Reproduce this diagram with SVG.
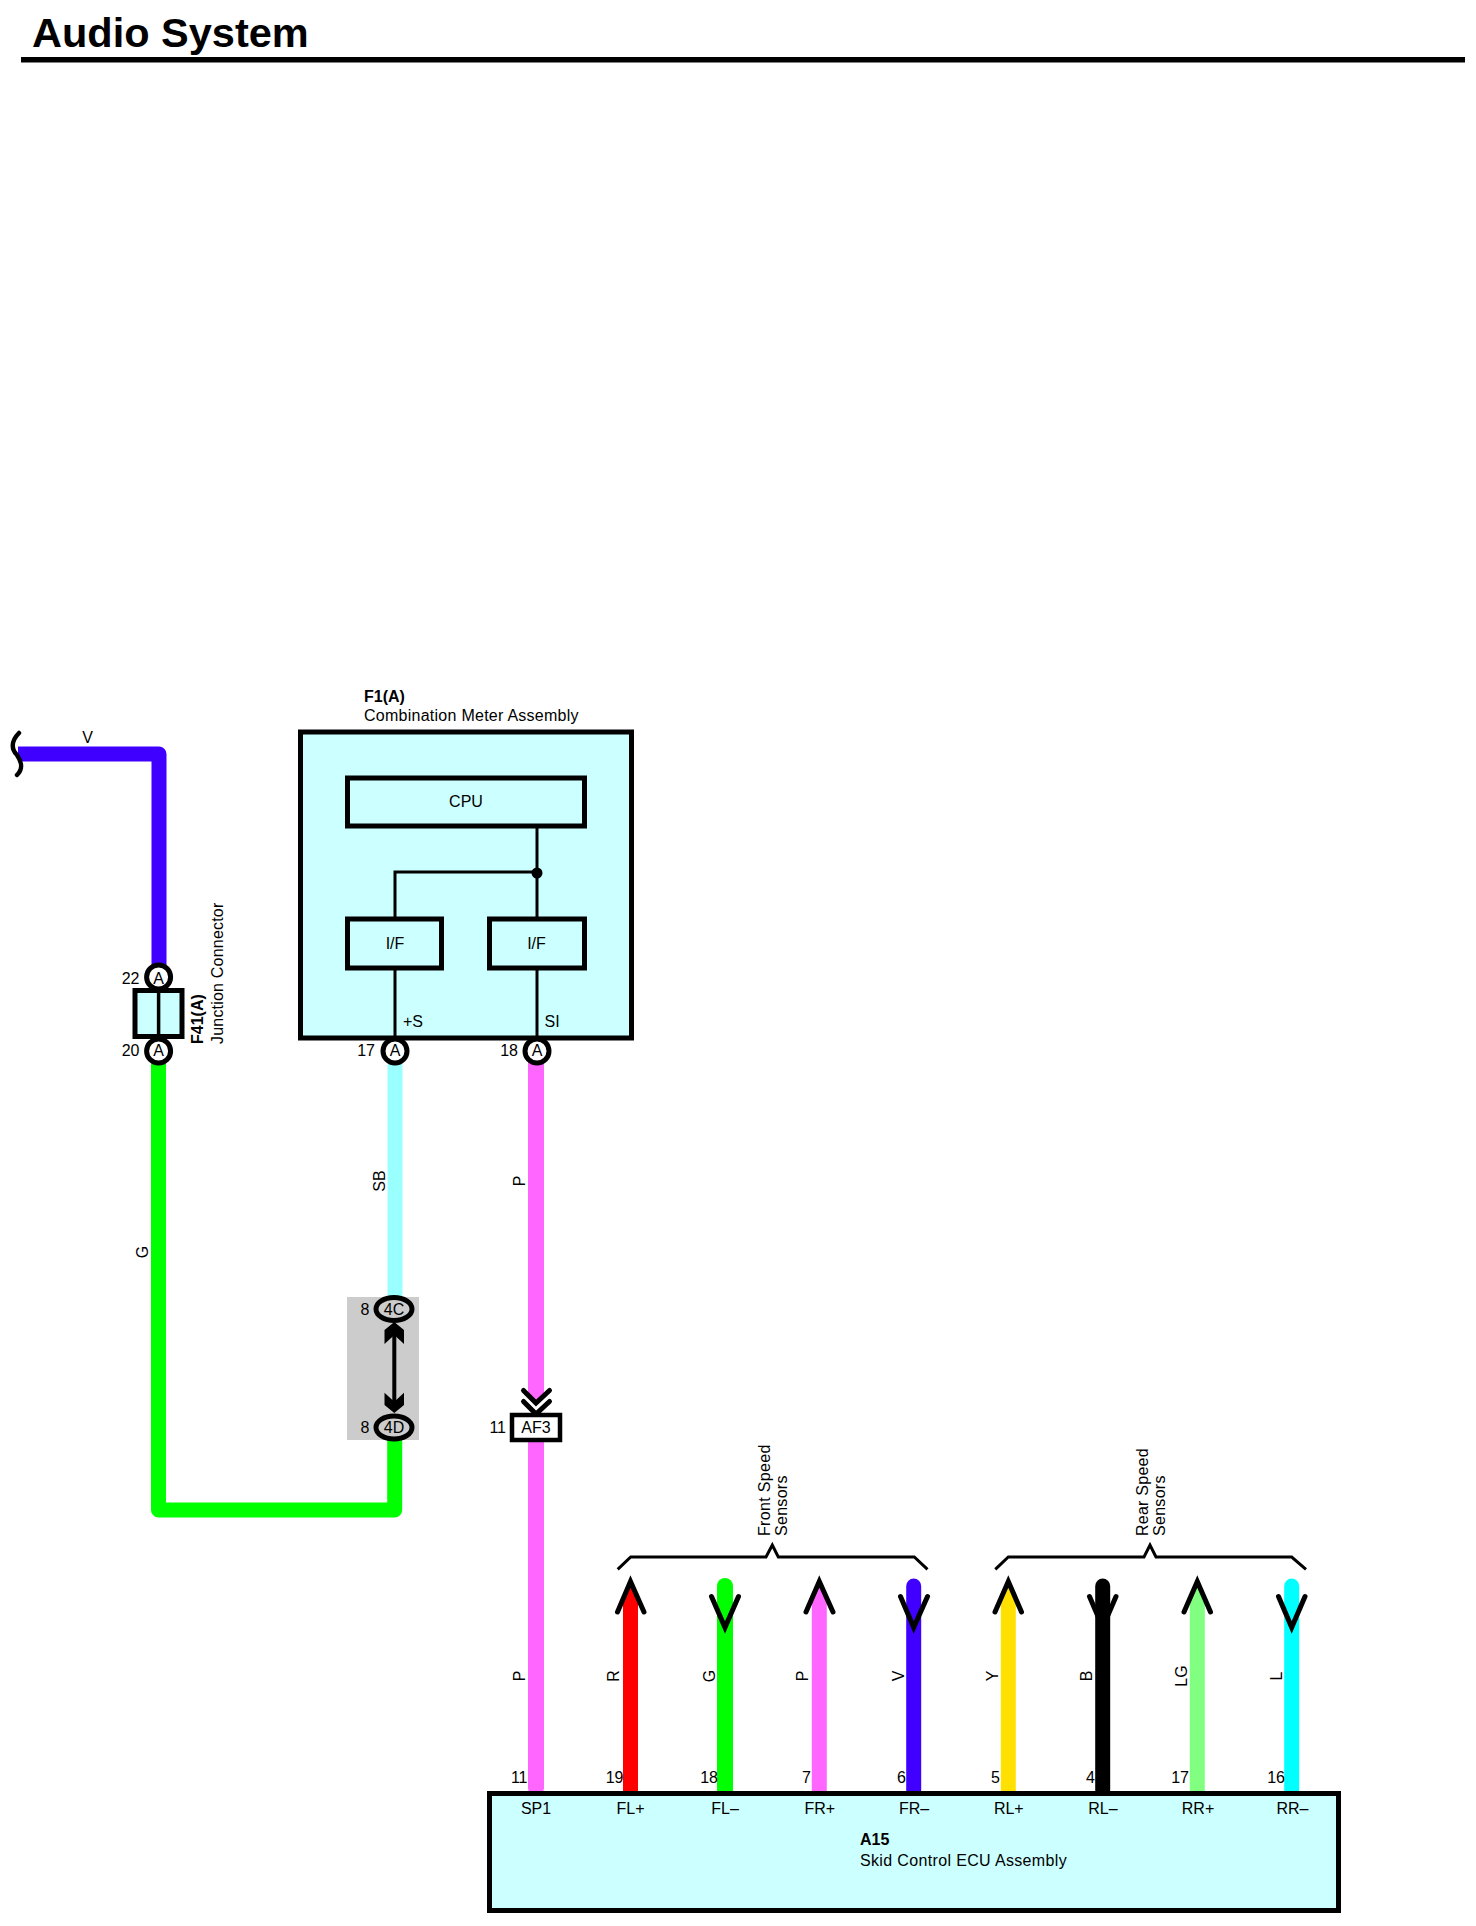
<svg xmlns="http://www.w3.org/2000/svg" width="1476" height="1926" viewBox="0 0 1476 1926">
<style>
text{font-family:"Liberation Sans",Arial,sans-serif;font-size:16px;fill:#000}
.b{font-weight:bold}
.m{text-anchor:middle}
.e{text-anchor:end}
.box{fill:#ccffff;stroke:#000;stroke-width:5;stroke-linejoin:miter}
.w{fill:none;stroke-width:15;stroke-linejoin:round;stroke-linecap:round}
.pin{fill:#fff;stroke:#000;stroke-width:5}
.gp{fill:#ccc;stroke:#000;stroke-width:5}
.ch{fill:none;stroke:#000;stroke-width:5;stroke-linecap:round;stroke-linejoin:miter}
.br{fill:none;stroke:#000;stroke-width:3}
</style>
<rect width="1476" height="1926" fill="#fff"/>
<g id="title">
<text class="b" x="32" y="47" style="font-size:41.500px">Audio System</text>
<rect x="21" y="57" width="1444" height="5.500" fill="#000"/>
</g>
<g id="splice-shade"><rect x="347" y="1297" width="72" height="143" fill="#ccc"/></g>
<g id="connectors">
<path class="w" stroke="#4000ff" style="stroke-linecap:butt" d="M18 754H159V975"/>
<path d="M19 733C10 742 12 750 17 755C21 761 24 768 17 775" fill="none" stroke="#000" stroke-width="4.500" stroke-linecap="round"/>
<path class="w" stroke="#00ff00" d="M158.500 1055V1510H394.700V1430"/>
<path class="w" stroke="#99ffff" style="stroke-linecap:butt" d="M395 1055V1300"/>
<path class="w" stroke="#ff66ff" style="stroke-width:16" d="M536 1055V1395M536 1440V1788"/>
<path class="ch" d="M523.500 1390.500L536 1403L549.500 1390.500M523.500 1401.500L536 1414L549.500 1401.500"/>
<path d="M394.300 1330V1410" stroke="#000" stroke-width="4" fill="none"/>
<path d="M394.300 1322L404 1330V1344L394.300 1335L384.500 1344V1330Z M394.300 1413L404 1405V1392.700L394.300 1401.700L384.500 1392.700V1405Z" fill="#000"/>
<path d="M630.500 1584L638 1600V1792H623V1600Z" fill="#ff0000"/>
<path class="w" stroke="#00ff00" style="stroke-width:16" d="M725 1586V1790"/>
<path d="M819.300 1584L826.800 1600V1792H811.800V1600Z" fill="#ff66ff"/>
<path class="w" stroke="#4000ff" d="M913.700 1586V1790"/>
<path d="M1008.300 1584L1015.800 1600V1792H1000.800V1600Z" fill="#ffe000"/>
<path class="w" stroke="#000" d="M1102.700 1586V1790"/>
<path d="M1197.300 1584L1204.800 1600V1792H1189.800V1600Z" fill="#80ff80"/>
<path class="w" stroke="#00ffff" d="M1291.700 1586V1790"/>
<path class="ch" d="M617.500 1612L630.500 1581.500L644 1612M711.500 1596.500L725 1627.500L738.500 1596.500M806 1612L819.300 1581.500L833 1612M900.500 1596.500L913.700 1627.500L927.500 1596.500M995 1612L1008.300 1581.500L1021.500 1612M1089.500 1596.500L1102.700 1627.500L1116 1596.500M1184 1612L1197.300 1581.500L1210.500 1612M1278.500 1596.500L1291.700 1627.500L1305 1596.500"/>
<path class="br" d="M617.700 1569.300L630.700 1557H766L772.300 1545L778.300 1557H914.300L927.500 1569.300"/>
<path class="br" d="M995.300 1569.300L1008.300 1557H1144L1150 1545L1156 1557H1291.700L1306 1569.300"/>
</g>
<g id="wire-labels">
<text class="m" x="87.500" y="743">V</text>
<text class="m" transform="translate(384.500 1181) rotate(-90)">SB</text>
<text class="m" transform="translate(525 1181) rotate(-90)">P</text>
<text class="m" transform="translate(148 1252) rotate(-90)">G</text>
<text class="m" transform="translate(525 1676) rotate(-90)">P</text>
<text class="m" transform="translate(619 1676) rotate(-90)">R</text>
<text class="m" transform="translate(715 1676) rotate(-90)">G</text>
<text class="m" transform="translate(808 1676) rotate(-90)">P</text>
<text class="m" transform="translate(904 1676) rotate(-90)">V</text>
<text class="m" transform="translate(998 1676) rotate(-90)">Y</text>
<text class="m" transform="translate(1092 1676) rotate(-90)">B</text>
<text class="m" transform="translate(1187 1676) rotate(-90)">LG</text>
<text class="m" transform="translate(1282 1676) rotate(-90)">L</text>
</g>
<g id="F1">
<text class="b" x="364" y="701.500">F1(A)</text>
<text x="364" y="721" style="letter-spacing:.26px">Combination Meter Assembly</text>
<rect class="box" x="300.500" y="732" width="331" height="306"/>
<g id="F1-wiring" fill="none" stroke="#000" stroke-width="3">
<path d="M537 826V920M395 920V872H537M395 968V1040M537 968V1040"/>
<circle cx="537" cy="873" r="5.500" fill="#000" stroke="none"/>
</g>
<g id="F1-cpu"><rect class="box" x="347.500" y="778" width="237" height="48"/>
<text class="m" x="466" y="807">CPU</text></g>
<g id="F1-if1"><rect class="box" x="347.500" y="919" width="94" height="49"/>
<text class="m" x="395" y="949">I/F</text></g>
<g id="F1-if2"><rect class="box" x="489.500" y="919" width="95" height="49"/>
<text class="m" x="536.500" y="949">I/F</text></g>
<text x="403" y="1027">+S</text>
<text x="544.500" y="1027">SI</text>
</g>
<g id="pin-F1-17"><circle class="pin" cx="395" cy="1051" r="12"/><text class="m" x="395" y="1056">A</text><text class="e" x="375" y="1056">17</text></g>
<g id="pin-F1-18"><circle class="pin" cx="537" cy="1051" r="12"/><text class="m" x="537" y="1056">A</text><text class="e" x="518" y="1056">18</text></g>
<g id="F41">
<circle class="pin" cx="158.600" cy="977" r="12"/><text class="m" x="158.600" y="984">A</text><text class="e" x="139.500" y="984">22</text>
<circle class="pin" cx="158.600" cy="1051" r="12"/><text class="m" x="158.600" y="1056">A</text><text class="e" x="139.500" y="1056">20</text>
<rect class="box" x="135" y="990.500" width="47" height="46"/>
<path d="M158.600 990V1037" stroke="#000" stroke-width="3.500" fill="none"/>
<text class="b" transform="translate(203 1044) rotate(-90)">F41(A)</text>
<text transform="translate(222.500 1044) rotate(-90)" style="letter-spacing:.2px">Junction Connector</text>
</g>
<g id="splice-4C"><ellipse class="gp" cx="394" cy="1309" rx="18" ry="11.500"/><text class="m" x="394" y="1315">4C</text><text class="e" x="369.500" y="1315">8</text></g>
<g id="splice-4D"><ellipse class="gp" cx="394" cy="1427.500" rx="18" ry="11.500"/><text class="m" x="394" y="1433">4D</text><text class="e" x="369.500" y="1433">8</text></g>
<g id="AF3"><rect x="512" y="1415" width="48" height="25" fill="#fff" stroke="#000" stroke-width="4.500"/><text class="m" x="536" y="1433">AF3</text><text class="e" x="506" y="1433">11</text></g>
<g id="A15">
<rect class="box" x="489.500" y="1793.500" width="849" height="117"/>
<text class="m" x="536" y="1814">SP1</text>
<text class="m" x="630.500" y="1814">FL+</text>
<text class="m" x="725" y="1814">FL–</text>
<text class="m" x="819.800" y="1814">FR+</text>
<text class="m" x="914" y="1814">FR–</text>
<text class="m" x="1008.800" y="1814">RL+</text>
<text class="m" x="1103" y="1814">RL–</text>
<text class="m" x="1198" y="1814">RR+</text>
<text class="m" x="1292.500" y="1814">RR–</text>
<text class="e" x="527.500" y="1783">11</text>
<text class="e" x="623.500" y="1783">19</text>
<text class="e" x="718" y="1783">18</text>
<text class="e" x="811" y="1783">7</text>
<text class="e" x="906" y="1783">6</text>
<text class="e" x="1000" y="1783">5</text>
<text class="e" x="1095" y="1783">4</text>
<text class="e" x="1189" y="1783">17</text>
<text class="e" x="1285" y="1783">16</text>
<text class="b" x="860" y="1845">A15</text>
<text x="860" y="1866" style="letter-spacing:.35px">Skid Control ECU Assembly</text>
</g>
<g id="front-sensors">
<text transform="translate(770 1536) rotate(-90)" style="letter-spacing:.33px">Front Speed</text>
<text transform="translate(786.500 1536) rotate(-90)" style="letter-spacing:.3px">Sensors</text>
</g>
<g id="rear-sensors">
<text transform="translate(1148 1536) rotate(-90)" style="letter-spacing:.25px">Rear Speed</text>
<text transform="translate(1165 1536) rotate(-90)" style="letter-spacing:.3px">Sensors</text>
</g>
</svg>
